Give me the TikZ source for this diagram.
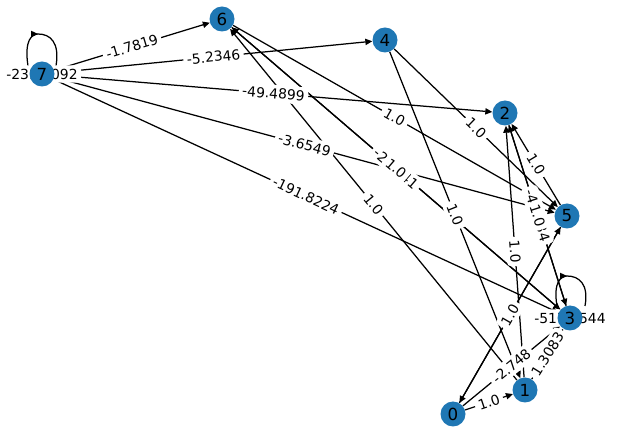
\documentclass[tikz,border=0pt]{standalone}
\usepackage{fontspec}
\setmainfont{DejaVu Sans}
\usetikzlibrary{arrows.meta}

\tikzset{
    vertex/.style={circle, fill={rgb,255:red,31;green,119;blue,180}, minimum size=18pt, inner sep=0pt, font=\fontsize{12}{12}\selectfont},
    hole/.style={circle, minimum size=18pt, inner sep=0pt},
    arc/.style={-{Triangle[length=5pt,width=4.5pt]}, line width=0.9pt},
    weight/.style={fill=white, rounded corners=3pt, inner sep=2.5pt, font=\fontsize{10}{10}\selectfont},
    elabel/.style={weight, sloped, midway}
}

\begin{document}
\begin{tikzpicture}[x=0.72pt,y=-0.72pt]
    \useasboundingbox (0,0) rectangle (619,438);

    % node places first, so that the arcs can end on them
    \node[hole] (n0) at (453,414) {};
    \node[hole] (n1) at (525,390) {};
    \node[hole] (n2) at (505,113) {};
    \node[hole] (n3) at (570,318) {};
    \node[hole] (n4) at (385,40) {};
    \node[hole] (n5) at (567,216) {};
    \node[hole] (n6) at (222,19) {};
    \node[hole] (n7) at (42,74) {};

    % arcs
    \draw[arc] (n7) -- (n6);
    \draw[arc] (n7) -- (n4);
    \draw[arc] (n7) -- (n2);
    \draw[arc] (n7) -- (n5);
    \draw[arc] (n7) -- (n3);
    \draw[arc] (n1) -- (n6);
    \draw[arc] (n3) -- (n6);
    \draw[arc] (n6) -- (n3);
    \draw[arc] (n6) -- (n5);
    \draw[arc] (n4) -- (n5);
    \draw[arc] (n4) -- (n1);
    \draw[arc] (n5) -- (n2);
    \draw[arc] (n3) -- (n2);
    \draw[arc] (n2) -- (n3);
    \draw[arc] (n1) -- (n2);
    \draw[arc] (n5) -- (n0);
    \draw[arc] (n0) -- (n5);
    \draw[arc] (n0) -- (n3);
    \draw[arc] (n1) -- (n3);
    \draw[arc] (n0) -- (n1);

    % self loops
    \coordinate (l7a) at (28,66);
    \coordinate (l7b) at (56,66);
    \draw[line width=0.9pt] (l7a) .. controls (24,40) and (32,34) .. (38,34);
    \draw[arc] (34,34) -- (38,34);
    \draw[line width=0.9pt] (38,34) .. controls (50,34) and (60,42) .. (l7b);
    \coordinate (l3a) at (557,306);
    \coordinate (l3b) at (585,306);
    \draw[line width=0.9pt] (l3a) .. controls (553,282) and (561,276) .. (567,276);
    \draw[arc] (563,276) -- (567,276);
    \draw[line width=0.9pt] (567,276) .. controls (579,276) and (589,284) .. (l3b);

    % weights
    \path (n7) -- node[elabel] {-1.7819} (n6);
    \path (n7) -- node[elabel] {-5.2346} (n4);
    \path (n7) -- node[elabel] {-49.4899} (n2);
    \path (n7) -- node[elabel] {-3.6549} (n5);
    \path (n7) -- node[elabel] {-191.8224} (n3);
    \path (n3) -- node[elabel] {-2.1041} (n6);
    \path (n6) -- node[elabel] {1.0} (n3);
    \path (n6) -- node[elabel] {1.0} (n5);
    \path (n6) -- node[elabel] {1.0} (n1);
    \path (n4) -- node[elabel] {1.0} (n5);
    \path (n4) -- node[elabel] {1.0} (n1);
    \path (n2) -- node[elabel] {1.0} (n5);
    \path (n2) -- node[elabel] {-4.1834} (n3);
    \path (n3) -- node[elabel] {1.0} (n2);
    \path (n1) -- node[elabel] {1.0} (n2);
    \path (n0) -- node[elabel] {1.0} (n5);
    \path (n0) -- node[elabel] {-2.748} (n3);
    \path (n1) -- node[elabel] {1.3083} (n3);
    \path (n0) -- node[elabel] {1.0} (n1);
    \node[weight] (w7) at (n7) {-239.4092};
    \node[weight] (w3) at (n3) {-517.3544};

    % the nodes over everything
    \foreach \v in {0,...,7}
        \node[vertex] at (n\v) {\v};
\end{tikzpicture}
\end{document}
